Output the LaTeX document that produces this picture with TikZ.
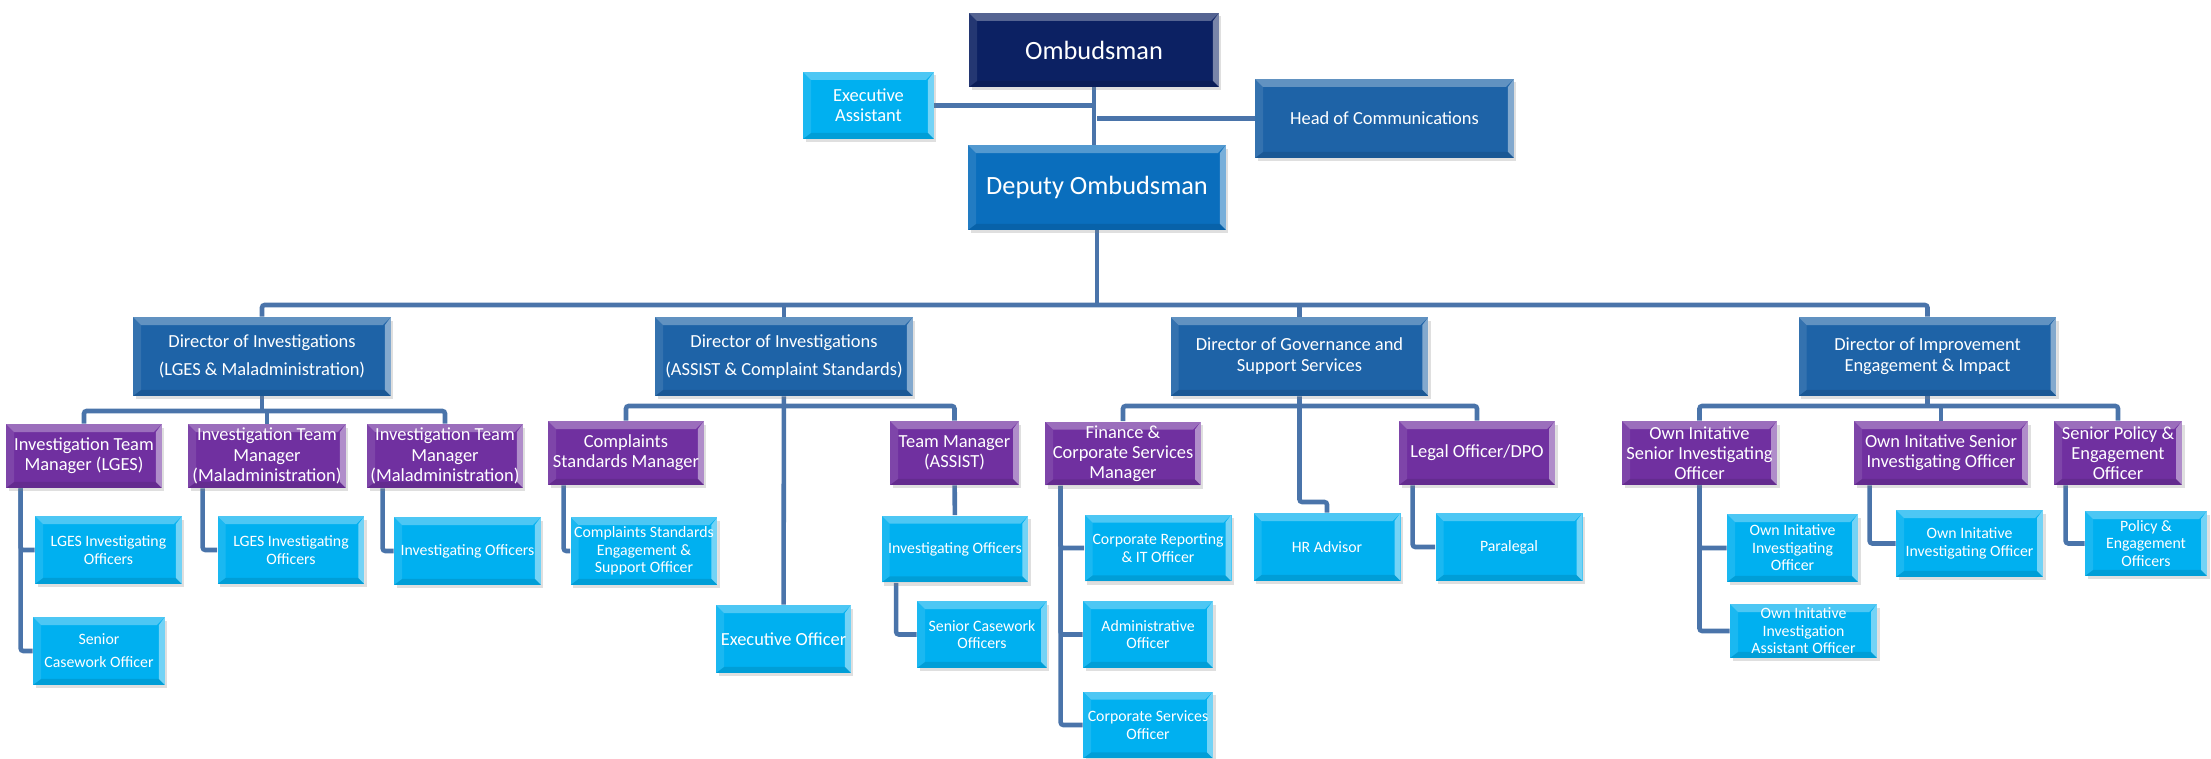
\documentclass[tikz,border=0pt]{standalone}
\usepackage{fontspec}
\setmainfont{Carlito}
\usepackage{tikz}
\usetikzlibrary{shadows}
\definecolor{navyb}{HTML}{0C2163}
\definecolor{deputyb}{HTML}{0A6EBD}
\definecolor{dirb}{HTML}{1E63A7}
\definecolor{mgrp}{HTML}{7030A0}
\definecolor{offc}{HTML}{00B0F0}
\definecolor{linkb}{HTML}{4A74AA}
\pgfdeclarelayer{edgelayer}
\pgfdeclarelayer{nodelayer}
\pgfsetlayers{edgelayer,nodelayer,main}
\tikzstyle{bevel}=[path picture={
    \coordinate (bnw) at (path picture bounding box.north west);
    \coordinate (bne) at (path picture bounding box.north east);
    \coordinate (bsw) at (path picture bounding box.south west);
    \coordinate (bse) at (path picture bounding box.south east);
    \fill [white, opacity=0.3] (bnw) -- (bne) -- ([shift={(-0.16cm,-0.16cm)}]bne) -- ([shift={(0.16cm,-0.16cm)}]bnw) -- cycle;
    \fill [white, opacity=0.45] (bne) -- (bse) -- ([shift={(-0.12cm,0.12cm)}]bse) -- ([shift={(-0.12cm,-0.16cm)}]bne) -- cycle;
    \fill [white, opacity=0.1] (bnw) -- ([shift={(0.16cm,-0.16cm)}]bnw) -- ([shift={(0.16cm,0.12cm)}]bsw) -- (bsw) -- cycle;
    \fill [black, opacity=0.1] (bsw) -- ([shift={(0.16cm,0.12cm)}]bsw) -- ([shift={(-0.12cm,0.12cm)}]bse) -- (bse) -- cycle;
}]
\tikzstyle{orgbox}=[rectangle, text=white, align=center, inner sep=0pt, bevel, drop shadow={opacity=0.25, shadow xshift=0.05cm, shadow yshift=-0.07cm}]
\tikzstyle{chief}=[orgbox, fill=navyb, minimum width=5cm, minimum height=1.48cm, font=\fontsize{15}{18}\selectfont]
\tikzstyle{deputy}=[orgbox, fill=deputyb, minimum width=5.16cm, minimum height=1.7cm, font=\fontsize{15}{18}\selectfont]
\tikzstyle{director}=[orgbox, fill=dirb, minimum width=5.16cm, minimum height=1.58cm, font=\fontsize{10.5}{12}\selectfont]
\tikzstyle{manager}=[orgbox, fill=mgrp, minimum width=3.12cm, minimum height=1.28cm, font=\fontsize{10.5}{11.5}\selectfont]
\tikzstyle{officer}=[orgbox, fill=offc, minimum width=2.94cm, minimum height=1.36cm, font=\fontsize{9}{10}\selectfont]
\tikzstyle{link}=[-, draw=linkb, line width=2.6pt, rounded corners=1.5pt]

\begin{document}
\begin{tikzpicture}[x=0.02cm, y=-0.02cm]
    \useasboundingbox (0, 0) rectangle (2211, 759);
    \begin{pgfonlayer}{nodelayer}
        \node [style=chief] (Omb) at (1094, 50) {Ombudsman};
        \node [style=officer, minimum width=2.62cm, minimum height=1.34cm, font=\fontsize{10.5}{11.5}\selectfont] (EA) at (868.5, 105.5) {Executive\\Assistant};
        \node [style=director, minimum width=5.18cm] (HoC) at (1384.5, 118.5) {Head of Communications};
        \node [style=deputy] (Dep) at (1097, 187.5) {Deputy Ombudsman};

        \node [style=director] (D1) at (262, 356.5) {Director of Investigations\\[4pt](LGES \& Maladministration)};
        \node [style=director] (D2) at (784, 356.5) {Director of Investigations\\[4pt](ASSIST \& Complaint Standards)};
        \node [style=director] (D3) at (1299.5, 356.5) {Director of Governance and\\Support Services};
        \node [style=director] (D4) at (1927.5, 356.5) {Director of Improvement\\Engagement \& Impact};

        \node [style=manager] (M1) at (84, 456) {Investigation Team\\Manager (LGES)};
        \node [style=manager, minimum width=3.16cm] (M2) at (267, 456) {Investigation Team\\Manager\\(Maladministration)};
        \node [style=manager] (M3) at (445, 456) {Investigation Team\\Manager\\(Maladministration)};
        \node [style=manager] (CSM) at (626, 453) {Complaints\\Standards Manager};
        \node [style=manager, minimum width=2.58cm] (TMA) at (954.5, 453) {Team Manager\\(ASSIST)};
        \node [style=manager] (FCS) at (1123, 453.5) {Finance \&\\Corporate Services\\Manager};
        \node [style=manager] (LO) at (1477, 453) {Legal Officer/DPO};
        \node [style=manager, minimum width=3.1cm] (OI1) at (1699.5, 453) {Own Initative\\Senior Investigating\\Officer};
        \node [style=manager, minimum width=3.48cm] (OI2) at (1941, 453) {Own Initative Senior\\Investigating Officer};
        \node [style=manager, minimum width=2.56cm] (SPE) at (2118, 453) {Senior Policy \&\\Engagement\\Officer};

        \node [style=officer] (LIO1) at (108.5, 550) {LGES Investigating\\Officers};
        \node [style=officer, minimum width=2.64cm] (SCO) at (99, 651) {Senior\\[3pt]Casework Officer};
        \node [style=officer] (LIO2) at (291, 550) {LGES Investigating\\Officers};
        \node [style=officer] (IOM3) at (467.5, 551) {Investigating Officers};
        \node [style=officer] (CSESO) at (644, 551) {Complaints Standards\\Engagement \&\\Support Officer};
        \node [style=officer, minimum width=2.7cm, font=\fontsize{10.5}{12}\selectfont] (ExO) at (783.5, 639) {Executive Officer};
        \node [style=officer, minimum height=1.34cm] (IOA) at (955, 549) {Investigating Officers};
        \node [style=officer, minimum width=2.6cm, minimum height=1.34cm] (SCOA) at (982, 634.5) {Senior Casework\\Officers};
        \node [style=officer, minimum height=1.34cm] (CRIT) at (1158, 548) {Corporate Reporting\\\& IT Officer};
        \node [style=officer, minimum width=2.6cm, minimum height=1.34cm] (AO) at (1148, 634.5) {Administrative\\Officer};
        \node [style=officer, minimum width=2.6cm, minimum height=1.34cm] (CSO) at (1148, 725) {Corporate Services\\Officer};
        \node [style=officer] (HR) at (1327, 547) {HR Advisor};
        \node [style=officer] (PL) at (1509, 547) {Paralegal};
        \node [style=officer, minimum width=2.62cm] (OIIO) at (1792.5, 548) {Own Initative\\Investigating\\Officer};
        \node [style=officer, minimum height=1.08cm] (OIIAO) at (1803.5, 631) {Own Initative\\Investigation\\Assistant Officer};
        \node [style=officer, minimum height=1.34cm] (OIIO2) at (1969.5, 543.5) {Own Initative\\Investigating Officer};
        \node [style=officer, minimum width=2.44cm, minimum height=1.3cm] (PEO) at (2146, 543.5) {Policy \&\\Engagement\\Officers};

        \coordinate (bus) at (1097, 305);
        \coordinate (d1bus) at (262, 411);
        \coordinate (d2bus) at (784, 406);
        \coordinate (d4bus) at (1927.5, 406);
        \coordinate (hrjog) at (1299.5, 502);
    \end{pgfonlayer}
    \begin{pgfonlayer}{edgelayer}
        \draw [style=link] (Omb) -- (Omb |- Dep.north);
        \draw [style=link] (EA) -- (EA -| Omb);
        \draw [style=link] (HoC) -- (HoC -| Dep);
        \draw [style=link] (Dep) -- (bus);
        \draw [style=link] (D1) |- (bus) -| (D4);
        \draw [style=link] (D2) -- (D2 |- bus);
        \draw [style=link] (D3) -- (D3 |- bus);

        \draw [style=link] (D1) -- (d1bus);
        \draw [style=link] (M1) |- (d1bus) -| (M3);
        \draw [style=link] (M2) -- (M2 |- d1bus);
        \draw [style=link] ([xshift=0.3cm]M1.south west) |- (LIO1);
        \draw [style=link] ([xshift=0.3cm]M1.south west) |- (SCO);
        \draw [style=link] ([xshift=0.3cm]M2.south west) |- (LIO2);
        \draw [style=link] ([xshift=0.32cm]M3.south west) |- (IOM3);

        \draw [style=link] (D2) -- (ExO);
        \draw [style=link] (CSM) |- (d2bus) -| (TMA);
        \draw [style=link] ([xshift=0.32cm]CSM.south west) |- (CSESO);
        \draw [style=link] (TMA) -- (IOA);
        \draw [style=link] ([xshift=0.3cm]IOA.south west) |- (SCOA);

        \draw [style=link] (FCS) |- (D3 |- d2bus) -| (LO);
        \draw [style=link] (D3) -- (hrjog) -| (HR);
        \draw [style=link] ([xshift=0.32cm]FCS.south west) |- (CRIT);
        \draw [style=link] ([xshift=0.32cm]FCS.south west) |- (AO);
        \draw [style=link] ([xshift=0.32cm]FCS.south west) |- (CSO);
        \draw [style=link] ([xshift=0.28cm]LO.south west) |- (PL);

        \draw [style=link] (D4) -- (d4bus);
        \draw [style=link] (OI1) |- (d4bus) -| (SPE);
        \draw [style=link] (OI2) -- (OI2 |- d4bus);
        \draw [style=link] (OI1) |- (OIIO);
        \draw [style=link] (OI1) |- (OIIAO);
        \draw [style=link] ([xshift=0.32cm]OI2.south west) |- (OIIO2);
        \draw [style=link] ([xshift=0.24cm]SPE.south west) |- (PEO);
    \end{pgfonlayer}
\end{tikzpicture}
\end{document}
